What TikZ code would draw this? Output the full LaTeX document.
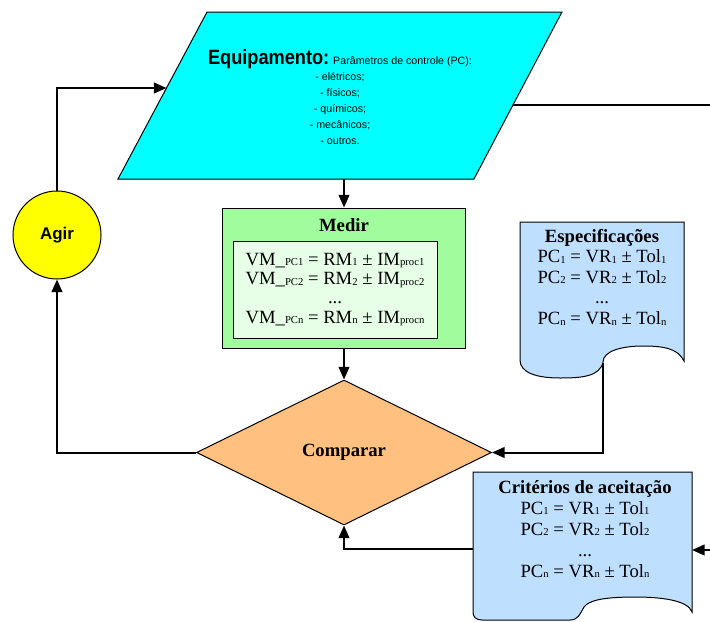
\documentclass[tikz,border=0pt]{standalone}
\usepackage{fontspec}
\setmainfont{Liberation Serif}
\newfontfamily\arialfont{Liberation Sans}
\newfontfamily\arialnarrow{Liberation Sans}[FakeStretch=0.88]
\usetikzlibrary{arrows.meta,shapes.geometric}

\definecolor{eqcyan}{HTML}{00FFFF}
\definecolor{medgreen}{HTML}{A0FC9C}
\definecolor{medinner}{HTML}{E6FFE6}
\definecolor{compor}{HTML}{FFC080}
\definecolor{docblue}{HTML}{BFDFFF}
\definecolor{agiryel}{HTML}{FFFF00}

% small lowered index used in the formulas
\newcommand{\idx}[1]{\raisebox{-0.6pt}{\fontsize{8}{8}\selectfont #1}}

\begin{document}
\begin{tikzpicture}[x=0.75pt,y=-0.75pt,
  outline/.style={draw=black, line width=0.75pt},
  conn/.style={line width=1.5pt, -{Triangle[length=9.5pt,width=8pt]}},
  plainline/.style={line width=1.5pt},
  serif/.style={font=\fontsize{14}{#1}\selectfont},
  serif/.default=15
]
\useasboundingbox (0,0) rectangle (710,621);

% --- Equipamento (parallelogram) ---
\coordinate (eqTL) at (207,12);
\coordinate (eqTR) at (562,12);
\coordinate (eqBR) at (474,179);
\coordinate (eqBL) at (118,179);
\path[outline, fill=eqcyan] (eqTL) -- (eqTR) -- (eqBR) -- (eqBL) -- cycle;
\coordinate (eqIn)  at (166.5,88);
\coordinate (eqOut) at (513,105);
\coordinate (eqBot) at (344,179);
\node[align=center, font=\arialfont\fontsize{8}{12}\selectfont] (equip) at (340,97)
  {{\arialnarrow\bfseries\fontsize{15.5}{12}\selectfont Equipamento:} Parâmetros de controle (PC):\\
   - elétricos;\\- físicos;\\- químicos;\\- mecânicos;\\- outros.};

% --- Medir ---
\node[outline, fill=medgreen, minimum width=182.25pt, minimum height=105pt, inner sep=0]
  (medir) at (344,278) {};
\node[font=\bfseries\fontsize{14}{15}\selectfont] (medirT) at (344,225) {Medir};
\node[outline, fill=medinner, minimum width=153pt, minimum height=72.75pt, inner sep=0,
  align=center, serif=14.5] (medirIn) at (335,289.5)
  {VM\_\idx{PC1} = RM\idx{1} ± IM\idx{proc1}\\
   VM\_\idx{PC2} = RM\idx{2} ± IM\idx{proc2}\\
   ...\\
   VM\_\idx{PCn} = RM\idx{n} ± IM\idx{procn}};

% --- Comparar ---
\node[diamond, outline, fill=compor, minimum width=221.25pt, minimum height=108.75pt,
  inner sep=0, font=\bfseries\fontsize{14}{15}\selectfont] (comp) at (344,452.5) {Comparar};

% --- Agir ---
\node[circle, outline, fill=agiryel, minimum size=66pt, inner sep=0,
  font=\arialfont\bfseries\fontsize{12.7}{14}\selectfont] (agir) at (57,235) {Agir};

% --- Especificações (document) ---
\path[outline, fill=docblue] (520,222) -- (684,222) -- (684,361)
  .. controls (678,348) and (662,346) .. (643,346)
  .. controls (622,346) and (603,351) .. (603,362)
  .. controls (600,377) and (580,378) .. (560,378)
  .. controls (535,378) and (520,372) .. (520,360) -- cycle;
\coordinate (specOut) at (603,363);
\node[align=center, serif=15.4] (spec) at (602,277)
  {\textbf{Especificações}\\
   PC\idx{1} = VR\idx{1} ± Tol\idx{1}\\
   PC\idx{2} = VR\idx{2} ± Tol\idx{2}\\
   ...\\
   PC\idx{n} = VR\idx{n} ± Tol\idx{n}};

% --- Critérios de aceitação (document) ---
\path[outline, fill=docblue] (473,472) -- (692,472) -- (692,612)
  .. controls (688,600) and (660,597) .. (635,597)
  .. controls (605,597) and (589,600) .. (584,607)
  .. controls (580,614) and (578,620) .. (570,620) -- (482,620)
  .. controls (476,620) and (473,617) .. (473,612) -- cycle;
\coordinate (critOut) at (473,549);
\coordinate (critIn)  at (692,550);
\node[align=center, serif=15.75] (crit) at (585,529)
  {\textbf{Critérios de aceitação}\\
   PC\idx{1} = VR\idx{1} ± Tol\idx{1}\\
   PC\idx{2} = VR\idx{2} ± Tol\idx{2}\\
   ...\\
   PC\idx{n} = VR\idx{n} ± Tol\idx{n}};

% --- free ends at the right border ---
\coordinate (rimTop) at (710,105);
\coordinate (rimBot) at (710,550);

% --- connectors ---
\draw[conn] (eqBot) -- (medir.north);
\draw[conn] (medir.south) -- (comp.north);
\draw[conn] (specOut) |- (comp.east);
\draw[conn] (critOut) -| (comp.south);
\draw[conn] (comp.west) -| (agir.south);
\draw[conn] (agir.north) |- (eqIn);
\draw[plainline] (eqOut) -- (rimTop);
\draw[conn] (rimBot) -- (critIn);
\end{tikzpicture}
\end{document}
